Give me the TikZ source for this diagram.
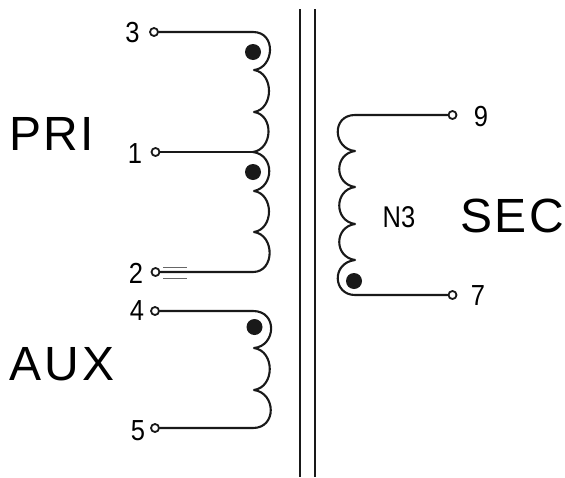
\documentclass[tikz,border=0pt]{standalone}
\usepackage{fontspec}
\setmainfont{Liberation Sans}
\tikzset{
  wire/.style={line width=2.1pt,line cap=round,line join=round,draw=black!90},
  core/.style={line width=2.2pt,draw=black!90},
  term/.style={circle,draw=black!90,line width=1.8pt,fill=white,inner sep=0pt,minimum size=8pt},
  phasedot/.style={circle,fill=black!90,inner sep=0pt,minimum size=16pt},
  big/.style={inner sep=0pt,font=\fontsize{48}{48}\selectfont},
  pin/.style={inner sep=0pt,font=\fontsize{29}{29}\selectfont,xscale=.88},
  tick/.style={line width=.6pt,draw=black!60}
}
\begin{document}
\begin{tikzpicture}[x=1pt,y=-1pt]
\useasboundingbox (0,0) rectangle (565,477);
\fill[white] (0,0) rectangle (565,477);
% core
\coordinate (c1t) at (300,9); \coordinate (c1b) at (300,477);
\coordinate (c2t) at (315,9); \coordinate (c2b) at (315,477);
\draw[core] (c1t) -- (c1b);
\draw[core] (c2t) -- (c2b);
% primary, aux, secondary coils
\coordinate (a) at (253,32);
\coordinate (b) at (253,152);
\coordinate (e) at (253,272);
\coordinate (f) at (253,311);
\coordinate (g) at (253,428);
\coordinate (h) at (355,115);
\coordinate (i) at (355,295);
% terminals
\node[term] (t3) at (154,32) {};
\node[term] (t1) at (155.5,152) {};
\node[term] (t2) at (155.5,272) {};
\node[term] (t4) at (155,311) {};
\node[term] (t5) at (155,428) {};
\node[term] (t9) at (452.5,115) {};
\node[term] (t7) at (452.5,295) {};
\draw[wire] (t3) -- (a) .. controls +(24,0) and +(20,-2) .. (254,70)
  .. controls +(20,3) and +(20,-3) .. (254,112)
  .. controls +(20,3) and +(20,-3) .. (b)
  .. controls +(22,3) and +(20,-4) .. (254,191)
  .. controls +(20,3) and +(20,-3) .. (254,232)
  .. controls +(21,3) and +(22,0) .. (e) -- (t2);
\draw[wire] (t1) -- (b);
\draw[wire] (t4) -- (f) .. controls +(25,0) and +(22,-2) .. (254,348)
  .. controls +(21,3) and +(21,-3) .. (254,390)
  .. controls +(22,3) and +(24,0) .. (g) -- (t5);
\draw[wire] (t9) -- (h) .. controls +(-24,0) and +(-22,-2) .. (355,151)
  .. controls +(-21,3) and +(-21,-3) .. (355,187)
  .. controls +(-21,3) and +(-21,-3) .. (355,224)
  .. controls +(-21,3) and +(-21,-3) .. (355,260)
  .. controls +(-24,3) and +(-22,0) .. (i) -- (t7);
% dots
\node[phasedot] (d1) at (253,52) {};
\node[phasedot] (d2) at (253,172) {};
\node[phasedot] (d3) at (254.5,327) {};
\node[phasedot] (d4) at (354,281) {};
% ticks near pin 2
\coordinate (k1) at (163,267); \coordinate (k2) at (187,267);
\coordinate (k3) at (163,278.5); \coordinate (k4) at (187,278.5);
\draw[tick] (k1) -- (k2);
\draw[tick] (k3) -- (k4);
% labels
\node[big,anchor=base west] (pri) at (9,150) {P\kern2.5pt R\kern2.5pt I};
\node[big,anchor=base west] (aux) at (9,380) {A\kern3.5pt U\kern3.5pt X};
\node[big,anchor=base east] (sec) at (564,232) {S\kern2.5pt E\kern2.5pt C};
\node[inner sep=0pt,anchor=base,font=\fontsize{30}{30}\selectfont,xscale=.85] (n3) at (399,227) {N3};
\node[pin,anchor=base] (l3) at (132.5,42) {3};
\node[pin,anchor=base] (l1) at (135,163) {1};
\node[pin,anchor=base] (l2) at (136,283.5) {2};
\node[pin,anchor=base] (l4) at (137,320.5) {4};
\node[pin,anchor=base] (l5) at (138,440) {5};
\node[pin,anchor=base] (l9) at (481,126) {9};
\node[pin,anchor=base] (l7) at (478,305) {7};
\end{tikzpicture}
\end{document}
